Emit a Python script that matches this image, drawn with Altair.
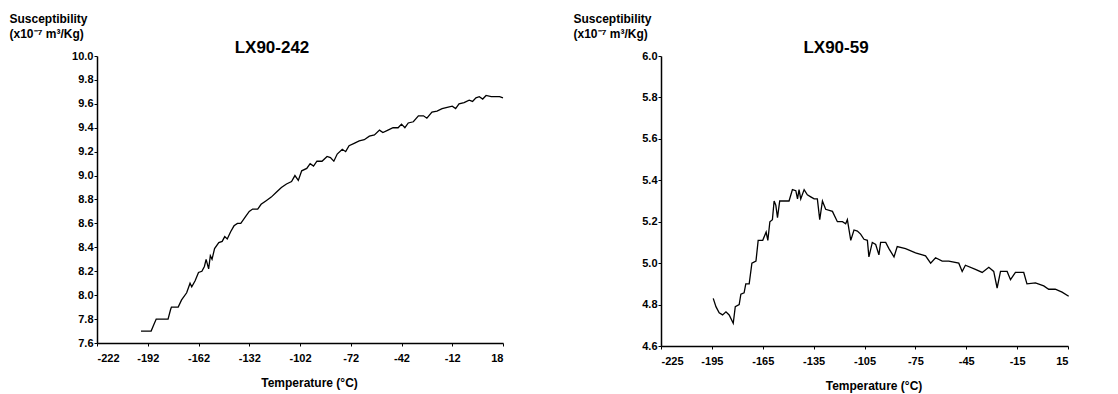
import altair as alt
import pandas as pd

# ---- LX90-242 (left panel) ----
t_242 = [-196, -190, -188.5, -187, -180, -178.5, -178, -174, -172, -169, -168, -167, -166,
         -164, -162, -160, -158.5, -157.5, -156, -155, -154, -152.5, -150, -148, -146.5,
         -145, -143, -141, -139, -137, -134, -132, -130, -127, -125, -122, -119, -116,
         -113, -110, -107, -105, -103, -101, -98, -96, -94, -92, -89, -86, -84, -82, -80,
         -77, -75, -73, -70, -67, -64, -61, -58, -55, -53, -50, -47, -44, -42, -40, -38,
         -35, -32, -29, -27, -24, -21, -18, -15, -12, -10, -8, -5, -2, 0, 2, 4, 6, 8, 11,
         14, 16, 18]
chi_242 = [7.70, 7.70, 7.75, 7.80, 7.80, 7.88, 7.90, 7.90, 7.96, 8.02, 8.06, 8.10, 8.07,
           8.12, 8.19, 8.20, 8.24, 8.30, 8.22, 8.33, 8.30, 8.39, 8.44, 8.45, 8.49,
           8.47, 8.53, 8.58, 8.60, 8.60, 8.66, 8.70, 8.72, 8.72, 8.76, 8.79, 8.82, 8.86,
           8.90, 8.93, 8.95, 9.00, 8.96, 9.04, 9.06, 9.10, 9.08, 9.12, 9.12, 9.16, 9.15,
           9.12, 9.18, 9.22, 9.20, 9.25, 9.27, 9.29, 9.30, 9.33, 9.34, 9.38, 9.36, 9.38,
           9.40, 9.40, 9.43, 9.40, 9.44, 9.45, 9.50, 9.50, 9.48, 9.53, 9.54, 9.56, 9.57,
           9.58, 9.56, 9.60, 9.61, 9.63, 9.62, 9.65, 9.66, 9.64, 9.67, 9.66, 9.66, 9.66, 9.65]

# ---- LX90-59 (right panel) ----
t_59 = [-194.2, -192.6, -190.7, -188.7, -186.7, -184.8, -182.4, -181.2, -178.9, -177.9,
        -176, -175, -173, -171.4, -169, -167.7, -165, -163, -162, -160.8, -159.3, -158.3,
        -157.3, -156.3, -155, -149.5, -147.5, -145.5, -144.5, -143.6, -142.6, -140.6,
        -138.7, -136.7, -134.7, -132.8, -131.4, -129.8, -127.9, -123.9, -121, -118,
        -116.1, -115.1, -113.1, -111.2, -109.2, -107.3, -105.3, -103.3, -102.4, -100.4,
        -98.4, -96.5, -95.5, -92.5, -90.6, -87.6, -85.7, -80.8, -74.9, -69, -66, -63.1,
        -59.2, -55.3, -49.4, -47.4, -45.5, -39.6, -35.6, -31.7, -28.8, -26.8, -24.8,
        -20.9, -18.9, -16, -11.1, -9.2, -4.2, 0.7, 3.6, 7.5, 11.5, 15.4]
chi_59 = [4.83, 4.79, 4.76, 4.75, 4.765, 4.75, 4.71, 4.79, 4.80, 4.85,
          4.857, 4.90, 4.90, 5.00, 5.01, 5.11, 5.11, 5.15, 5.11, 5.20, 5.21, 5.30,
          5.28, 5.22, 5.30, 5.30, 5.355, 5.35, 5.31, 5.355, 5.31, 5.355,
          5.33, 5.32, 5.31, 5.31, 5.21, 5.30, 5.26, 5.25, 5.20, 5.20,
          5.19, 5.21, 5.11, 5.16, 5.155, 5.14, 5.115, 5.11, 5.03, 5.10,
          5.09, 5.04, 5.10, 5.10, 5.07, 5.03, 5.08, 5.07, 5.05, 5.035, 5.00, 5.026,
          5.01, 5.01, 5.00, 4.96, 4.99, 4.97, 4.955, 4.98, 4.96, 4.88, 4.96,
          4.96, 4.92, 4.955, 4.955, 4.90, 4.905, 4.89, 4.874, 4.874, 4.86, 4.84]

x_ticks_242 = [-222, -192, -162, -132, -102, -72, -42, -12, 18]
x_ticks_59 = [-225, -195, -165, -135, -105, -75, -45, -15, 15]
y_ticks_242 = [7.6, 7.8, 8.0, 8.2, 8.4, 8.6, 8.8, 9.0, 9.2, 9.4, 9.6, 9.8, 10.0]
y_ticks_59 = [4.6, 4.8, 5.0, 5.2, 5.4, 5.6, 5.8, 6.0]

y_title = ["Susceptibility", "(x10\u207b\u2077 m\u00b3/Kg)"]
x_title = "Temperature (\u00b0C)"
FONT = "Liberation Sans"


def panel(t, chi, name, xdom, xticks, ydom, yticks, w, h):
    df = pd.DataFrame({"T": t, "chi": chi})
    line = alt.Chart(df).mark_line(color="black", strokeWidth=1.3).encode(
        x=alt.X("T:Q", scale=alt.Scale(domain=xdom, nice=False, zero=False),
                axis=alt.Axis(values=xticks, title=x_title,
                              labelExpr="toString(datum.value)",
                              titlePadding=14, titleX=w / 2 + 9)),
        y=alt.Y("chi:Q", scale=alt.Scale(domain=ydom, nice=False, zero=False),
                axis=alt.Axis(values=yticks, format=".1f", title=y_title,
                              titleAngle=0, titleAlign="left", titleBaseline="top",
                              titleX=-88, titleY=-43, titleLineHeight=15)),
    )
    ttl = alt.Chart(pd.DataFrame({"n": [name]})).mark_text(
        font=FONT, fontWeight="bold", fontSize=17, color="black"
    ).encode(text="n:N", x=alt.value(175), y=alt.value(-8))
    return alt.layer(line, ttl).properties(width=w, height=h)


left = panel(t_242, chi_242, "LX90-242", [-222, 18], x_ticks_242, [7.6, 10.0], y_ticks_242, 406, 287)
right = panel(t_59, chi_59, "LX90-59", [-225, 15], x_ticks_59, [4.6, 6.0], y_ticks_59, 407, 290)

chart = alt.hconcat(left, right, spacing=67).properties(
    padding={"left": 9, "top": 12, "right": 5, "bottom": 5}
).configure_view(stroke=None).configure_axis(
    domainColor="black", domainWidth=1.5, tickColor="black", tickSize=3,
    labelFont=FONT, labelFontWeight="bold", labelFontSize=11, labelColor="black",
    labelPadding=3, titleFont=FONT, titleFontWeight="bold", titleFontSize=12,
    titleColor="black", grid=False
).configure_axisY(labelPadding=1).configure_axisX(labelPadding=6)

chart.save("out.html", embed_options={"renderer": "svg", "actions": False})
